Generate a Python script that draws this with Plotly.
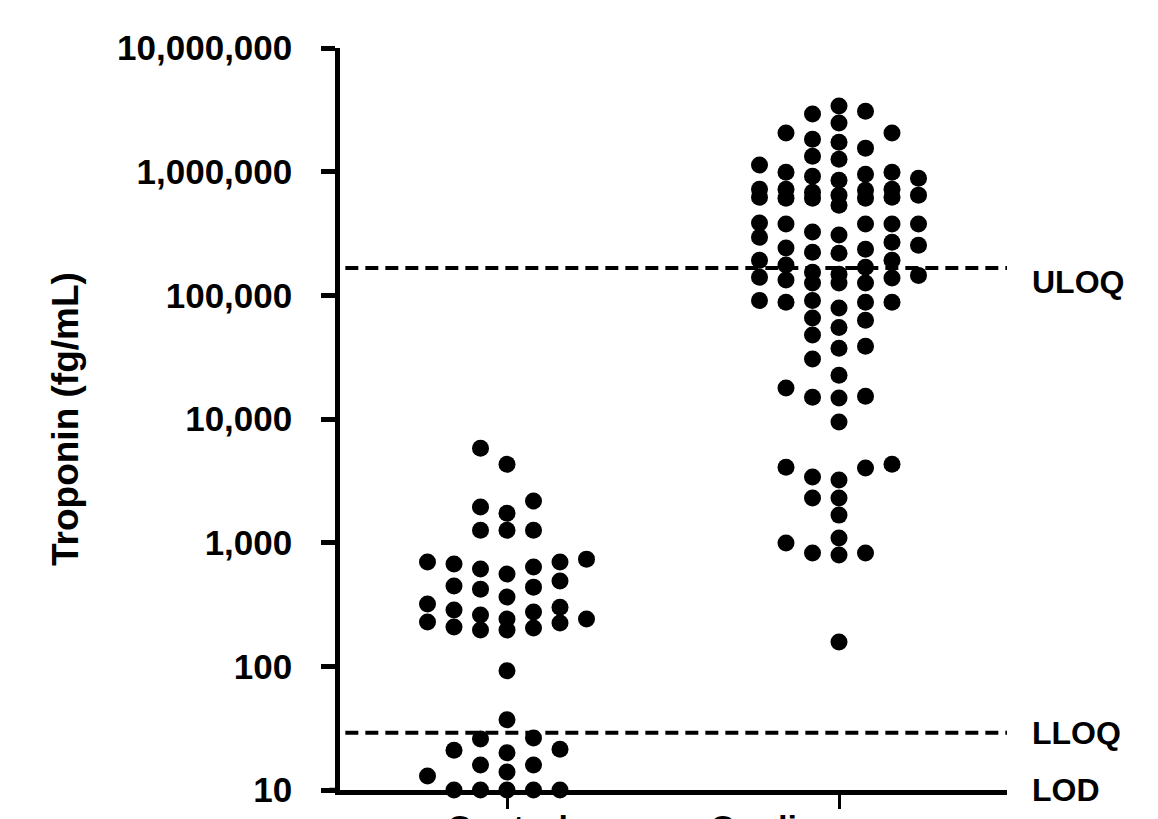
import numpy as np
import plotly.graph_objects as go

# ---------------- data ----------------
categories = ["Control", "Cardiac surgery"]

control_values = [5800, 4300, 2170, 1730, 1940, 1260, 1260, 1260,
                  557, 697, 671, 612, 635, 697, 736,
                  446, 421, 363, 437, 490,
                  319, 285, 260, 241, 275, 301,
                  241, 224, 204, 197, 197, 208, 228,
                  92, 37, 26.3, 25.8, 21.4, 20, 21, 15.9, 15.9, 14, 13,
                  10, 10, 10, 10, 10]

cardiac_values = [3390000, 2920000, 3080000, 2470000, 2050000, 2050000, 1730000,
                  1830000, 1550000, 1330000, 1260000, 991000, 955000, 886000,
                  920000, 991000, 1130000, 853000, 722000, 622000, 722000,
                  611000, 646000, 722000, 536000, 646000, 611000, 682000,
                  611000, 708000, 622000, 377000, 377000, 307000, 377000,
                  384000, 325000, 377000, 269000, 295000, 236000, 219000,
                  254000, 192000, 241000, 176000, 169000, 192000, 223000,
                  145000, 138000, 133000, 154000, 148000, 140000, 126000,
                  126000, 126000, 88000, 79000, 91000, 91000, 88000, 88000,
                  63000, 55000, 65500, 47700, 38800, 30500, 37400, 22600,
                  15000, 17800, 14800, 15300, 9440, 4080, 3390, 3210, 4010,
                  4310, 2300, 2300, 1670, 993, 824, 794, 824, 1090, 157]

tick_values = [10, 100, 1000, 10000, 100000, 1000000, 10000000]
tick_labels = ["10", "100", "1,000", "10,000", "100,000", "1,000,000", "10,000,000"]

limit_names = ["ULOQ", "LLOQ", "LOD"]
limit_values = [166000, 29, 10]

# ---------------- layout constants ----------------
W, H = 1158, 819
ML, MR, MT, MB = 340, 151, 48, 29
plot_w = W - ML - MR
plot_h = H - MT - MB
YLOG_MIN, YLOG_MAX = 1, 7
XMIN, XMAX = 0.497, 2.506
px_per_decade = plot_h / (YLOG_MAX - YLOG_MIN)
px_per_xunit = plot_w / (XMAX - XMIN)
DOT = 17
LANE_PX = 26.5
MAX_LANE = 3


def swarm_offsets(values):
    """Arrange points of one column in horizontal lanes (dot-plot style)."""
    ys = np.log10(np.asarray(values, dtype=float)) * px_per_decade
    order = np.argsort(ys, kind="stable")
    lanes = {}
    offs = np.zeros(len(ys))
    cand = [0]
    for k in range(1, MAX_LANE + 1):
        cand += [-k, k]
    for i in order:
        best, best_d = None, -1
        for k in cand:
            d = min([abs(ys[i] - yy) for yy in lanes.get(k, [])] + [1e9])
            if d >= DOT * 0.98:
                best = k
                break
            if d > best_d:
                best, best_d = k, d
        lanes.setdefault(best, []).append(ys[i])
        offs[i] = best
    return offs * LANE_PX / px_per_xunit


FONT = "Liberation Sans, Arial, sans-serif"

fig = go.Figure()
for ci, vals in enumerate([control_values, cardiac_values]):
    xs = (ci + 1) + swarm_offsets(vals)
    fig.add_trace(go.Scatter(
        x=xs, y=vals, mode="markers", name=categories[ci],
        marker=dict(size=DOT, color="black", line=dict(width=0)),
        cliponaxis=False, showlegend=False, hoverinfo="skip",
    ))

# limit lines
for name, v in zip(limit_names[:2], limit_values[:2]):
    fig.add_shape(type="line", xref="paper", x0=0.008, x1=1.0, yref="y",
                  y0=v, y1=v, line=dict(color="black", width=4, dash="13px,7px"),
                  layer="above")

# x-axis line runs a little past the y axis on the left
fig.add_shape(type="line", xref="paper", x0=-0.016, x1=0, yref="y",
              y0=limit_values[2], y1=limit_values[2],
              line=dict(color="black", width=4.5), layer="above")

label_shift = {"ULOQ": -14, "LLOQ": 0, "LOD": 0}
for name, v in zip(limit_names, limit_values):
    fig.add_annotation(text=name, xref="paper", x=(1030 - ML) / plot_w,
                       xanchor="left", yref="y", y=np.log10(v),
                       yshift=label_shift[name], showarrow=False,
                       font=dict(family=FONT, size=32, color="black", weight="bold"))

# category labels under the x axis (partly below the picture edge, as in the source)
for ci, name in enumerate(categories):
    fig.add_annotation(text=name, xref="x", x=ci + 1, yref="paper", y=0,
                       yanchor="top", xanchor="center", yshift=-16,
                       showarrow=False,
                       font=dict(family=FONT, size=34, color="black", weight="bold"))

# y-axis title
fig.add_annotation(text="Troponin (fg/mL)", xref="paper", x=(65 - ML) / plot_w,
                   yref="paper", y=0.5, textangle=-90, showarrow=False,
                   xanchor="center", yanchor="middle",
                   font=dict(family=FONT, size=37, color="black", weight="bold"))

fig.update_layout(
    width=W, height=H,
    margin=dict(l=ML, r=MR, t=MT, b=MB, autoexpand=False),
    paper_bgcolor="white", plot_bgcolor="white",
    font=dict(family=FONT, color="black"),
)
fig.update_yaxes(
    type="log", range=[YLOG_MIN, YLOG_MAX],
    tickvals=tick_values, ticktext=tick_labels,
    showline=True, linecolor="black", linewidth=4.5,
    ticks="outside", ticklen=14, tickwidth=4.5, tickcolor="black",
    ticklabelstandoff=22,
    tickfont=dict(family=FONT, size=35, color="black", weight="bold"),
    showgrid=False, zeroline=False, automargin=False,
)
fig.update_xaxes(
    range=[XMIN, XMAX],
    tickvals=[1, 2], showticklabels=False,
    showline=True, linecolor="black", linewidth=4.5,
    ticks="outside", ticklen=14, tickwidth=3, tickcolor="black",
    showgrid=False, zeroline=False, automargin=False,
)

fig.write_html("out.html", config={"displayModeBar": False},
               post_script="document.body.style.margin='0';document.body.style.overflow='hidden';")
